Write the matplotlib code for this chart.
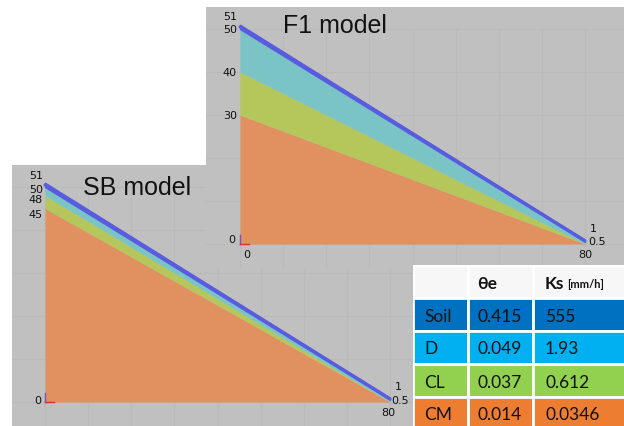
import matplotlib

matplotlib.use("Agg")
import matplotlib.pyplot as plt
from matplotlib.patches import Rectangle

# ---- layer tops at the crest (x=0) and the toe (x=80) ---------------------
x_pts = [0, 80]
f1_cm = [30, 0]
f1_cl = [40, 0]
f1_d = [50, 0.5]
f1_soil = [51, 1]
sb_cm = [45, 0]
sb_cl = [48, 0]
sb_d = [50, 0.5]
sb_soil = [51, 1]

f1_left_ticks = [51, 50, 40, 30]
sb_left_ticks = [51, 50, 48, 45]

# ---- material table ------------------------------------------------------
materials = ["Soil", "D", "CL", "CM"]
theta_e = ["0.415", "0.049", "0.037", "0.014"]
ks = ["555", "1.93", "0.612", "0.0346"]

# ---- palette -------------------------------------------------------------
PANEL = "#C0C0C0"
GRID = "#BABABA"
ORANGE = "#E0915F"
GREEN = "#B5C65B"
CYAN = "#7AC4C6"
BLUE = "#5A5CE0"
ROW_COLORS = ["#0070C0", "#00B0F0", "#92D050", "#ED7D31"]

W, H = 624, 427
SX, SY = 4.3125, 4.3  # pixels per metre

fig = plt.figure(figsize=(W / 100, H / 100), dpi=100)
fig.patch.set_facecolor("white")


def panel(px0, px1, py0, py1, ox, oy, z):
    """Axes spanning a pixel box, with data origin at pixel (ox, oy)."""
    ax = fig.add_axes([px0 / W, (H - py1) / H, (px1 - px0) / W, (py1 - py0) / H])
    ax.set_zorder(z)
    ax.set_facecolor(PANEL)
    ax.set_xlim((px0 - ox) / SX, (px1 - ox) / SX)
    ax.set_ylim((oy - py1) / SY, (oy - py0) / SY)
    for s in ax.spines.values():
        s.set_visible(False)
    ax.set_xticks([])
    ax.set_yticks([])
    return ax


def slope(ax, cm, cl, d, soil):
    ax.vlines(range(0, 81, 10), ax.get_ylim()[0], 50, color=GRID, lw=0.8, zorder=0)
    ax.hlines(range(0, 51, 10), *ax.get_xlim(), color=GRID, lw=0.8, zorder=0)
    ax.fill_between(x_pts, 0, cm, color=ORANGE, lw=0, zorder=2)
    ax.fill_between(x_pts, cm, cl, color=GREEN, lw=0, zorder=2)
    ax.fill_between(x_pts, cl, d, color=CYAN, lw=0, zorder=2)
    ax.fill_between(x_pts, d, soil, color=BLUE, lw=1.0, edgecolor=BLUE, zorder=3)
    ax.plot(x_pts, [(a + b) / 2 for a, b in zip(d, soil)], color=BLUE, lw=2.2,
            solid_capstyle="round", zorder=3)
    # little axis triad at the origin
    ax.plot([0, 0], [0, 2.2], color="#8050C0", lw=1, zorder=4)
    ax.plot([0, 2], [0, 0], color="#D03030", lw=1, zorder=4)


def label(ax, text, xy, dx, dy, ha="center"):
    ax.annotate(text, xy=xy, xytext=(dx, dy), textcoords="offset pixels",
                ha=ha, va="center", fontsize=8, family="DejaVu Sans",
                color="#111111", annotation_clip=False, zorder=6)


# ---- SB model (lower left) -----------------------------------------------
ax_sb = panel(12, 415, 166, 427, 45, 403, 1)
slope(ax_sb, sb_cm, sb_cl, sb_d, sb_soil)
for v, dy in zip(sb_left_ticks, [8, -2, -3, -5]):
    label(ax_sb, str(v), (0, v), -2, dy, ha="right")
label(ax_sb, "0", (0, 0), -4, 2, ha="right")
label(ax_sb, "80", (80, 0), -2, -10)
label(ax_sb, "1", (80, sb_soil[1]), 8, 12)
label(ax_sb, "0.5", (80, sb_d[1]), 1, 0, ha="left")
ax_sb.text(83 / W, 1 - 195 / H, "SB model", transform=fig.transFigure,
           fontsize=18, family="Liberation Sans", color="#111111",
           va="baseline", zorder=6)

# ---- F1 model (upper right) ----------------------------------------------
ax_f1 = panel(206, 624, 8, 270, 240, 245, 2)
slope(ax_f1, f1_cm, f1_cl, f1_d, f1_soil)
for v, dy in zip(f1_left_ticks, [9, 0, 0, 0]):
    label(ax_f1, str(v), (0, v), -3, dy, ha="right")
label(ax_f1, "0", (0, 0), -5, 5, ha="right")
label(ax_f1, "0", (0, 0), 7, -10)
label(ax_f1, "80", (80, 0), 0, -10)
label(ax_f1, "1", (80, f1_soil[1]), 8, 12)
label(ax_f1, "0.5", (80, f1_d[1]), 3, 1, ha="left")
ax_f1.text(283 / W, 1 - 33 / H, "F1 model", transform=fig.transFigure,
           fontsize=18, family="Liberation Sans", color="#111111",
           va="baseline", zorder=6)

# ---- parameter table (lower right) ---------------------------------------
tx0, tx1, ty0, ty1 = 413, 624, 266, 427
ax_t = fig.add_axes([tx0 / W, (H - ty1) / H, (tx1 - tx0) / W, (ty1 - ty0) / H])
ax_t.set_zorder(3)
ax_t.set_xlim(tx0, tx1)
ax_t.set_ylim(ty1, ty0)
ax_t.axis("off")
ax_t.add_patch(Rectangle((tx0, ty0), tx1 - tx0, ty1 - ty0, fc="white", ec="none"))

cols = [413, 468, 533, 626]
rows = [266, 299, 332, 365, 398, 431]
for r in range(5):
    fc = "#F7F7F7" if r == 0 else ROW_COLORS[r - 1]
    for c in range(3):
        ax_t.add_patch(Rectangle((cols[c], rows[r]), cols[c + 1] - cols[c],
                                 rows[r + 1] - rows[r], fc=fc, ec="white", lw=2))

tkw = dict(va="center", ha="left", family="Lato", color="#111111")
ax_t.text(477, 284, "θe", fontsize=12.5, fontweight="bold", **tkw)
ax_t.text(545, 284, "Ks", fontsize=12.5, fontweight="bold", **tkw)
ax_t.text(567, 285, "[mm/h]", fontsize=8, fontweight="bold", **tkw)
for i, (m, t, k) in enumerate(zip(materials, theta_e, ks)):
    yc = (rows[i + 1] + rows[i + 2]) / 2 + 1
    ax_t.text(424, yc, m, fontsize=12.5, **tkw)
    ax_t.text(477, yc, t, fontsize=12.5, **tkw)
    ax_t.text(545, yc, k, fontsize=12.5, **tkw)

fig.savefig("out.png", dpi=100, facecolor="white")
